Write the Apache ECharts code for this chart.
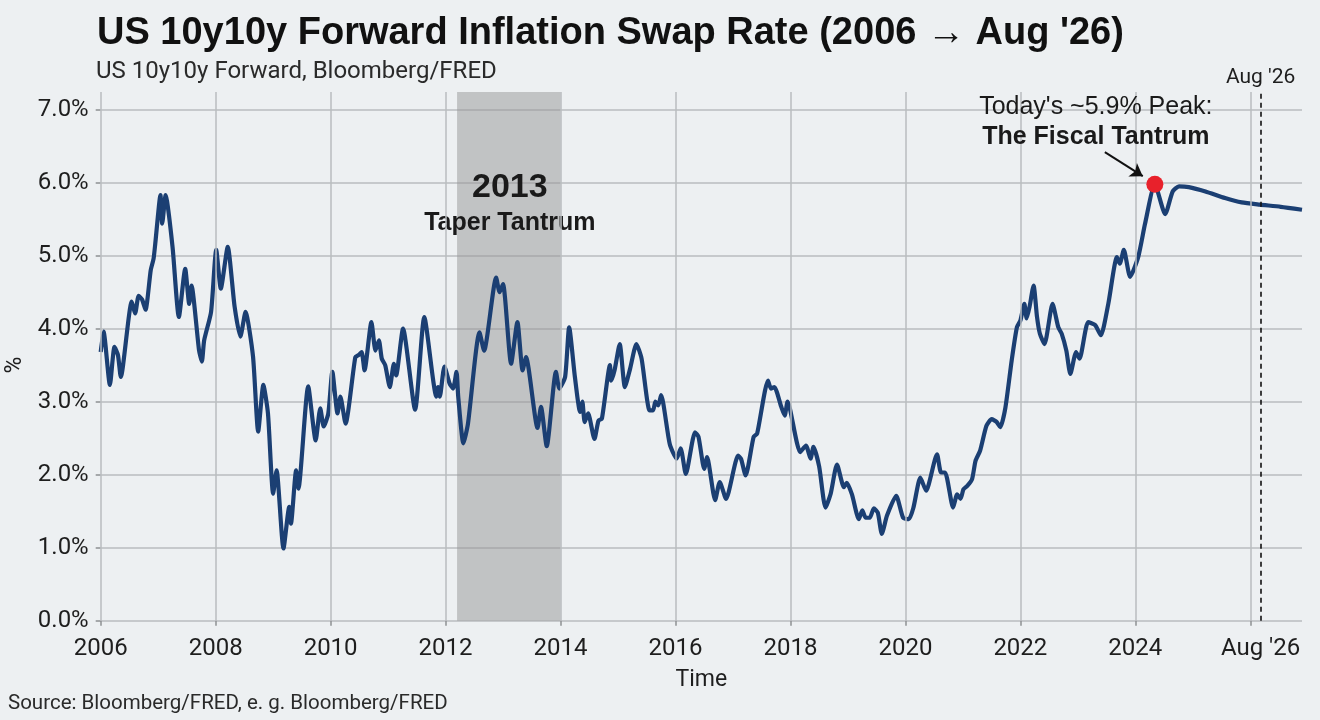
<!DOCTYPE html>
<html>
<head>
<meta charset="utf-8">
<script src="https://cdn.jsdelivr.net/npm/echarts@6/dist/echarts.min.js"></script>
<style>
html, body { margin: 0; padding: 0; background: #edf0f2; }
#main { width: 1320px; height: 720px; }
</style>
</head>
<body>
<div id="main"></div>
<script>
// US 10y10y forward inflation swap
var years = [
	2006.00, 2006.05, 2006.16, 2006.24, 2006.30, 2006.35, 2006.54, 2006.60, 2006.66, 2006.72, 2006.78, 2006.87, 2006.92, 2006.95,
	2007.04, 2007.07, 2007.13, 2007.25, 2007.36, 2007.47, 2007.54, 2007.58, 2007.71, 2007.76, 2007.80, 2007.92,
	2008.01, 2008.09, 2008.21, 2008.33, 2008.43, 2008.52, 2008.65, 2008.74, 2008.83, 2008.91,
	2009.00, 2009.06, 2009.18, 2009.28, 2009.31, 2009.40, 2009.44, 2009.61, 2009.74, 2009.82, 2009.88, 2009.96,
	2010.03, 2010.12, 2010.17, 2010.26, 2010.43, 2010.49, 2010.54, 2010.59, 2010.71, 2010.78, 2010.84, 2010.89, 2010.95,
	2011.03, 2011.10, 2011.14, 2011.26, 2011.47, 2011.63, 2011.84, 2011.87, 2011.90, 2011.98,
	2012.07, 2012.13, 2012.19, 2012.22, 2012.31, 2012.39, 2012.59, 2012.67, 2012.88, 2012.94,
	2013.00, 2013.14, 2013.25, 2013.34, 2013.40, 2013.60, 2013.66, 2013.76, 2013.92, 2013.98,
	2014.08, 2014.15, 2014.25, 2014.34, 2014.38, 2014.42, 2014.48, 2014.59, 2014.66, 2014.72, 2014.86, 2014.88, 2014.94,
	2015.03, 2015.12, 2015.21, 2015.32, 2015.41, 2015.55, 2015.61, 2015.65, 2015.70, 2015.75, 2015.90,
	2016.02, 2016.09, 2016.18, 2016.34, 2016.40, 2016.50, 2016.55, 2016.69, 2016.77, 2016.88,
	2017.09, 2017.14, 2017.22, 2017.36, 2017.42, 2017.61, 2017.66, 2017.72, 2017.84, 2017.90, 2017.95,
	2018.17, 2018.27, 2018.35, 2018.40, 2018.50, 2018.61, 2018.70, 2018.81, 2018.93, 2018.98,
	2019.07, 2019.19, 2019.25, 2019.31, 2019.38, 2019.45, 2019.52, 2019.59, 2019.68, 2019.84, 2019.96,
	2020.06, 2020.14, 2020.26, 2020.36, 2020.55, 2020.62, 2020.69, 2020.83, 2020.90, 2020.96,
	2021.01, 2021.08, 2021.16, 2021.22, 2021.30, 2021.41, 2021.50, 2021.59, 2021.65, 2021.74, 2021.85, 2021.94,
	2022.00, 2022.07, 2022.11, 2022.16, 2022.23, 2022.29, 2022.34, 2022.42, 2022.56, 2022.66, 2022.72, 2022.80, 2022.87, 2022.97,
	2023.03, 2023.18, 2023.30, 2023.40, 2023.53, 2023.68, 2023.73, 2023.80, 2023.91,
	2024.05, 2024.17, 2024.34, 2024.52, 2024.65, 2024.76, 2024.93,
	2025.22, 2025.56, 2025.85, 2026.16, 2026.53, 2026.90
];
var rates = [
	3.68, 3.96, 3.23, 3.75, 3.64, 3.34, 4.37, 4.21, 4.45, 4.40, 4.26, 4.80, 4.96, 5.17,
	5.83, 5.44, 5.83, 5.12, 4.16, 4.82, 4.34, 4.59, 3.71, 3.55, 3.84, 4.23,
	5.08, 4.55, 5.12, 4.30, 3.89, 4.23, 3.62, 2.59, 3.23, 2.84,
	1.74, 2.06, 0.99, 1.56, 1.33, 2.06, 1.81, 3.21, 2.47, 2.91, 2.66, 2.84,
	3.41, 2.84, 3.07, 2.70, 3.61, 3.64, 3.68, 3.43, 4.09, 3.70, 3.84, 3.59, 3.50,
	3.20, 3.52, 3.36, 4.00, 2.89, 4.16, 3.07, 3.20, 3.07, 3.48,
	3.25, 3.18, 3.41, 3.07, 2.43, 2.70, 3.95, 3.70, 4.70, 4.50,
	4.61, 3.52, 4.09, 3.43, 3.61, 2.64, 2.93, 2.39, 3.41, 3.18,
	3.34, 4.02, 3.34, 2.86, 3.00, 2.72, 2.84, 2.49, 2.74, 2.77, 3.50, 3.29, 3.43,
	3.79, 3.20, 3.45, 3.79, 3.59, 2.88, 2.88, 3.00, 2.95, 3.09, 2.42,
	2.22, 2.36, 2.01, 2.58, 2.52, 2.08, 2.24, 1.65, 1.90, 1.67,
	2.26, 2.22, 1.99, 2.52, 2.56, 3.29, 3.18, 3.20, 2.93, 2.81, 3.00,
	2.31, 2.40, 2.22, 2.38, 2.11, 1.55, 1.74, 2.14, 1.83, 1.89,
	1.73, 1.39, 1.51, 1.41, 1.41, 1.54, 1.48, 1.19, 1.44, 1.71, 1.41,
	1.39, 1.55, 1.96, 1.78, 2.28, 2.03, 2.03, 1.55, 1.73, 1.67,
	1.80, 1.85, 1.94, 2.19, 2.33, 2.67, 2.76, 2.72, 2.65, 2.92, 3.57, 4.02,
	4.11, 4.34, 4.14, 4.30, 4.59, 4.16, 3.93, 3.79, 4.34, 4.02, 3.93, 3.70, 3.38, 3.68,
	3.59, 4.09, 4.05, 3.91, 4.34, 4.98, 4.89, 5.08, 4.71,
	4.98, 5.44, 5.98, 5.57, 5.88, 5.95, 5.94,
	5.88, 5.79, 5.73, 5.70, 5.67, 5.63
];
var tickYears = [2006, 2008, 2010, 2012, 2014, 2016, 2018, 2020, 2022, 2024, 2026];
var labelYears = [2006, 2008, 2010, 2012, 2014, 2016, 2018, 2020, 2022, 2024, 2026.18];
var taperRange = [2012.2, 2014.0];
var peakPoint = [2024.34, 5.98];
var arrowFrom = [2023.47, 6.42];
var arrowTo = [2024.13, 6.09];
var todayYear = 2026.18;

var chart = echarts.init(document.getElementById('main'));

var lineData = years.map(function (y, i) { return [y, rates[i]]; });
var gridColor = '#b9bcbf';
var textColor = '#1e1e1e';

var option = {
	backgroundColor: '#edf0f2',
	animation: false,
	title: [{
		text: "US 10y10y Forward Inflation Swap Rate (2006 \u2192 Aug '26)",
		left: 92,
		top: 10,
		textStyle: { fontFamily: 'Liberation Sans', fontSize: 38, fontWeight: 'bold', color: '#111' }
	}, {
		text: 'US 10y10y Forward, Bloomberg/FRED',
		left: 91,
		top: 55,
		textStyle: { fontFamily: 'Roboto', fontSize: 24, fontWeight: 'normal', color: '#2a2a2a' }
	}, {
		text: 'Source: Bloomberg/FRED, e. g. Bloomberg/FRED',
		left: 3,
		top: 688,
		textStyle: { fontFamily: 'Roboto', fontSize: 20.5, fontWeight: 'normal', color: '#2a2a2a' }
	}],
	grid: [
		{ left: 100.7, right: 18, top: 109.7, bottom: 99.3, outerBoundsMode: 'none' },
		{ left: 100.7, right: 18, top: 92, bottom: 99.3, outerBoundsMode: 'none' }
	],
	xAxis: [{
		type: 'value',
		gridIndex: 0,
		min: 2006,
		max: 2026.9,
		interval: 2,
		name: 'Time',
		nameLocation: 'middle',
		nameGap: 48,
		nameTextStyle: { fontFamily: 'Roboto', fontSize: 23, color: textColor },
		axisLine: { show: false },
		axisTick: { show: true, length: 5, customValues: tickYears, lineStyle: { color: '#8d9093', width: 1.5 } },
		axisLabel: {
			customValues: labelYears,
			margin: 16,
			fontFamily: 'Roboto',
			fontSize: 24,
			color: textColor,
			formatter: function (v) { return v > 2025 ? "Aug '26" : String(v); }
		},
		splitLine: { show: false }
	}, {
		type: 'value',
		gridIndex: 1,
		min: 2006,
		max: 2026.9,
		show: false
	}],
	yAxis: [{
		type: 'value',
		gridIndex: 0,
		min: 0,
		max: 7,
		interval: 1,
		name: '%',
		nameLocation: 'middle',
		nameGap: 74,
		nameTextStyle: { fontFamily: 'Roboto', fontSize: 23, color: textColor },
		axisLine: { show: false },
		axisTick: { show: true, length: 5, lineStyle: { color: '#8d9093', width: 1.5 } },
		axisLabel: {
			margin: 12,
			fontFamily: 'Roboto',
			fontSize: 24,
			color: textColor,
			formatter: function (v) { return v.toFixed(1) + '%'; }
		},
		splitLine: { show: true, lineStyle: { color: gridColor, width: 1.5 } }
	}, {
		type: 'value',
		gridIndex: 1,
		min: 0,
		max: 1,
		show: false
	}],
	series: [{
		// vertical grid lines, taper shading and the Aug '26 marker
		type: 'line',
		xAxisIndex: 1,
		yAxisIndex: 1,
		data: [[2006, null]],
		symbol: 'none',
		silent: true,
		z: 1,
		markLine: {
			silent: true,
			symbol: 'none',
			animation: false,
			label: { show: false },
			lineStyle: { color: gridColor, width: 1.5, type: 'solid' },
			data: tickYears.map(function (y) { return { xAxis: y }; }).concat([{
				xAxis: todayYear,
				lineStyle: { color: '#111', width: 1.6, type: [5, 4] },
				label: {
					show: true,
					position: 'end',
					distance: 4,
					formatter: "Aug '26",
					fontFamily: 'Roboto',
					fontSize: 21,
					color: textColor
				}
			}])
		},
		markArea: {
			silent: true,
			itemStyle: { color: 'rgba(150,150,150,0.5)' },
			label: {
				show: true,
				position: 'insideTop',
				offset: [1, 71],
				formatter: '{a|2013}\n{b|Taper Tantrum}',
				rich: {
					a: { fontFamily: 'Liberation Sans', fontSize: 34, fontWeight: 'bold', color: '#1a1a1a', lineHeight: 40, align: 'center' },
					b: { fontFamily: 'Liberation Sans', fontSize: 25, fontWeight: 'bold', color: '#1a1a1a', lineHeight: 30, align: 'center' }
				}
			},
			data: [[{ xAxis: taperRange[0], yAxis: 0 }, { xAxis: taperRange[1], yAxis: 1 }]]
		}
	}, {
		name: 'US 10y10y Forward',
		type: 'line',
		data: lineData,
		showSymbol: false,
		smooth: 0.2,
		z: 3,
		lineStyle: { color: '#1b3f73', width: 4.2 }
	}, {
		type: 'scatter',
		data: [peakPoint],
		symbolSize: 17,
		z: 5,
		itemStyle: { color: '#e8212b', opacity: 1 },
		label: {
			show: true,
			position: 'top',
			offset: [-59, -19],
			formatter: "{r|Today's ~5.9% Peak:}\n{b|The Fiscal Tantrum}",
			rich: {
				r: { fontFamily: 'Liberation Sans', fontSize: 25, color: '#1a1a1a', lineHeight: 30, align: 'center' },
				b: { fontFamily: 'Liberation Sans', fontSize: 25, fontWeight: 'bold', color: '#1a1a1a', lineHeight: 30, align: 'center' }
			}
		},
		markLine: {
			silent: true,
			symbol: ['none', 'arrow'],
			symbolSize: 12,
			label: { show: false },
			lineStyle: { color: '#111', width: 2, type: 'solid' },
			data: [[{ coord: arrowFrom }, { coord: arrowTo }]]
		}
	}]
};
chart.setOption(option);
</script>
</body>
</html>
